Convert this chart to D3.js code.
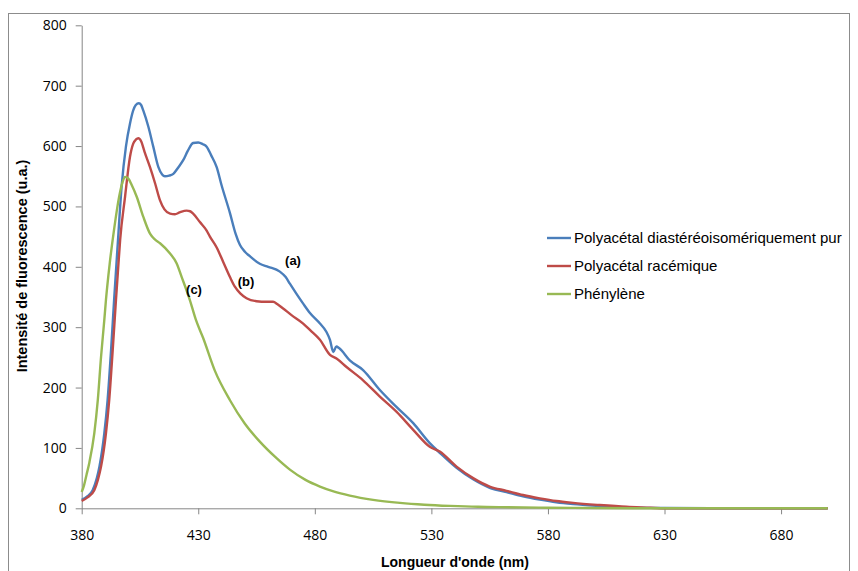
<!DOCTYPE html>
<html><head><meta charset="utf-8">
<script src="https://cdn.jsdelivr.net/npm/d3@7"></script>
<style>body{margin:0;background:#fff}svg{display:block}text{font-family:"Liberation Sans",Arial,sans-serif}</style>
</head><body><svg id="c" width="858" height="571"></svg>
<script>
const xTicks=[380,430,480,530,580,630,680];
const yTicks=[0,100,200,300,400,500,600,700,800];
const seriesNames=["Polyacétal diastéréoisomériquement pur","Polyacétal racémique","Phénylène"];
const seriesColors=["#4a7ebb","#be4b48","#98b954"];
const curveLabels=["(a)","(b)","(c)"];
const blueNm=[380,382.5,384.7,386.5,387.6,389.7,391.1,392.6,393.9,395.5,397.1,399,400.7,402.1,403.2,404.5,405.5,406.4,408.6,410.7,412.9,414.5,415.7,417.5,419.3,421.5,423.6,425.5,427.8,430,432,433.6,435.5,437.9,440,443.6,446,447.9,450,452,456.4,460,465,467.5,469.3,472,475,478,482.2,485,486.5,487.9,489.2,490.5,495,500.7,507.9,515,522.2,529.3,533.6,540.8,547.9,555,562.2,569.3,576.5,583.6,590.8,602,615,630,650,700];
const blueVal=[14,20,30,50,69,124,179,262,345,440,532,600,637,659,668,671,668,659,632,599,565,553,550,551,554,565,577,592,605,606,603,599,585,565,535,489,455,436,425,418,405,400,392,383,372,356,339,323,306,292,279,259,268,265,245,229,196,168,141,108,92,67,48,34,27,20,14.5,10,7,4,1.5,0.5,0,0];
const redNm=[380,382.5,385.4,387,388.3,390.4,391.8,393.3,394.7,395.5,396.5,398.6,400.7,402.1,403.3,404.3,405.5,407,409.3,411.5,413.6,415.5,417.9,420,422,425,426.5,427.8,430.7,433.6,435,437.9,440.7,443.6,445.7,448,450.7,455,459.3,462.1,464,466.4,470,475,478,482.2,486.5,489.3,493.6,500.7,507.9,515,522.2,529.3,533.6,540.8,547.9,555,562.2,569.3,576.5,583.6,590.8,602,613.7,624,630,700];
const redVal=[12,18,30,48,69,124,179,262,345,390,445,516,582,604,611,613,608,590,565,538,510,495,488,487,490,493,492,488,474,460,450,432,408,383,367,356,348,343,342,342,338,331,320,306,295,279,254,248,234,212,185,160,130,102,94,69,50,36,29,22,16.5,12,9,5.5,2.5,1,0,0];
const greenNm=[380,381,382.1,383.3,385.4,386.9,388.3,389.7,390.4,392,394,396,397.5,398.6,400,401.5,403.6,406.4,409.3,411.5,413.6,417.9,420.7,422.9,426.4,429,432.1,437.1,443.6,450,456.5,463,469.3,476,482.2,488,495,505,516.5,527,538,550,559,580,600,620,700];
const greenVal=[27,38,56,76,124,179,251,312,345,405,465,515,540,549,546,535,516,483,455,445,439,422,406,383,345,312,282,228,179,140,110,85,64,47,36,28,21,14,9,6,4,2.5,2,1,0.5,0,0];

const svg=d3.select("#c");
const L=81.7,R=827.7,T=25.3,B=508.3;
const x=d3.scaleLinear().domain([380,700]).range([L,R]);
const y=d3.scaleLinear().domain([0,800]).range([B,T]);
const axisCol="#868686";

svg.append("rect").attr("x",8.5).attr("y",13.5).attr("width",841).attr("height",580)
  .attr("fill","none").attr("stroke","#8c8c8c").attr("stroke-width",1);

const ya=svg.append("g").attr("transform",`translate(${L},0)`)
  .call(d3.axisLeft(y).tickValues(yTicks).tickSize(6).tickSizeOuter(0).tickPadding(9));
const xa=svg.append("g").attr("transform",`translate(0,${B})`)
  .call(d3.axisBottom(x).tickValues(xTicks).tickSize(6).tickSizeOuter(0).tickPadding(16));
[ya,xa].forEach(g=>{
  g.select(".domain").attr("stroke",axisCol).attr("stroke-width",1);
  g.selectAll(".tick line").attr("stroke",axisCol);
  g.selectAll(".tick text").attr("fill","#000").style("font-size","14px").style("font-family","'Open Sans',sans-serif");
});
xa.select(".domain").attr("d",`M${L},0.5H${R}`);

const series=[[blueNm,blueVal],[redNm,redVal],[greenNm,greenVal]];
const line=d3.line().x(d=>x(d[0])).y(d=>y(d[1])).curve(d3.curveMonotoneX);
series.forEach((s,i)=>{
  const pts=s[0].map((v,k)=>[v,s[1][k]]);
  svg.append("path").datum(pts).attr("d",line).attr("fill","none")
    .attr("stroke",seriesColors[i]).attr("stroke-width",2.4).attr("stroke-linejoin","round");
});

const labelPos=[[293,265],[246,286],[194,294]];
curveLabels.forEach((t,i)=>{
  svg.append("text").attr("x",labelPos[i][0]).attr("y",labelPos[i][1]).attr("text-anchor","middle")
    .style("font-size","13px").style("font-weight","bold").text(t);
});

seriesNames.forEach((n,i)=>{
  const yy=238+i*28;
  svg.append("line").attr("x1",547).attr("x2",571).attr("y1",yy).attr("y2",yy)
    .attr("stroke",seriesColors[i]).attr("stroke-width",2.4);
  svg.append("text").attr("x",574).attr("y",yy+5).style("font-size","15px").text(n);
});

svg.append("text").attr("x",455).attr("y",567).attr("text-anchor","middle")
  .style("font-size","14px").style("font-weight","bold").text("Longueur d'onde (nm)");
svg.append("text").attr("transform","translate(27,266) rotate(-90)").attr("text-anchor","middle")
  .style("font-size","14.5px").style("font-weight","bold").text("Intensité de fluorescence (u.a.)");
</script></body></html>
